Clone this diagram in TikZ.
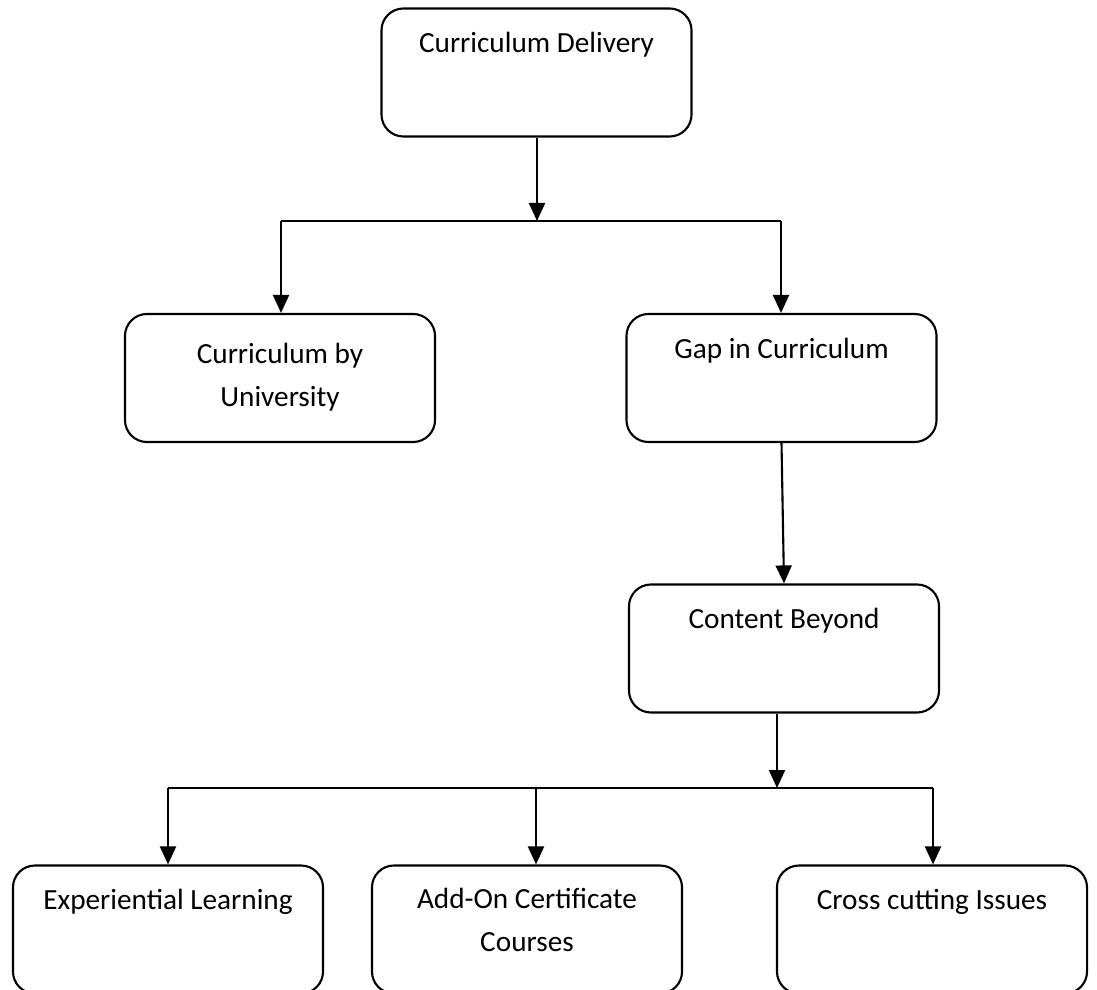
\documentclass[tikz,border=0pt]{standalone}
\usepackage{fontspec}
\setmainfont{Carlito}
\usetikzlibrary{arrows.meta}

\tikzset{>={Triangle[width=0.4cm,length=0.45cm]}}
\tikzset{
  box/.style={draw,line width=1.5pt,rounded corners=0.55cm,
    minimum width=7.75cm,minimum height=3.2cm,align=center,
    text height=15pt,text depth=43pt,
    font=\fontsize{20.8}{30.6}\selectfont},
  twolines/.style={text height=45.6pt,text depth=#1},
  link/.style={line width=1.5pt},
}

\begin{document}
\begin{tikzpicture}[x=0.025cm,y=-0.025cm]
\useasboundingbox (0,0) rectangle (1097,990);

\node [box] (deliv)  at (536.5,72.5) {Curriculum Delivery};
\node [box,twolines=5pt] (univ) at (280,378) {Curriculum by\\University};
\node [box] (gap)    at (781.5,378) {Gap in Curriculum};
\node [box] (beyond) at (784,648.5) {Content Beyond};
\node [box] (exp)    at (168,929.5) {Experiential Learning};
\node [box,twolines=14pt] (addon) at (527,929.5) {Add-On Certificate\\Courses};
\node [box] (cross)  at (932,929.5) {Cross cutting Issues};

\coordinate (j1)  at (537,221);
\coordinate (j1l) at (281,221);
\coordinate (j1r) at (781,221);
\coordinate (j2)  at (777,788);
\coordinate (j2l) at (168,788);
\coordinate (j2m) at (536,788);
\coordinate (j2r) at (933,788);

\draw [link,->] (j1 |- deliv.south) -- (j1);
\draw [link] (j1l) -- (j1r);
\draw [link,->] (j1l) -- (j1l |- univ.north);
\draw [link,->] (j1r) -- (j1r |- gap.north);

\draw [link,->] (gap.south) -- (beyond.north);

\draw [link,->] (j2 |- beyond.south) -- (j2);
\draw [link] (j2l) -- (j2r);
\draw [link,->] (j2l) -- (exp.north);
\draw [link,->] (j2m) -- (j2m |- addon.north);
\draw [link,->] (j2r) -- (j2r |- cross.north);
\end{tikzpicture}
\end{document}
